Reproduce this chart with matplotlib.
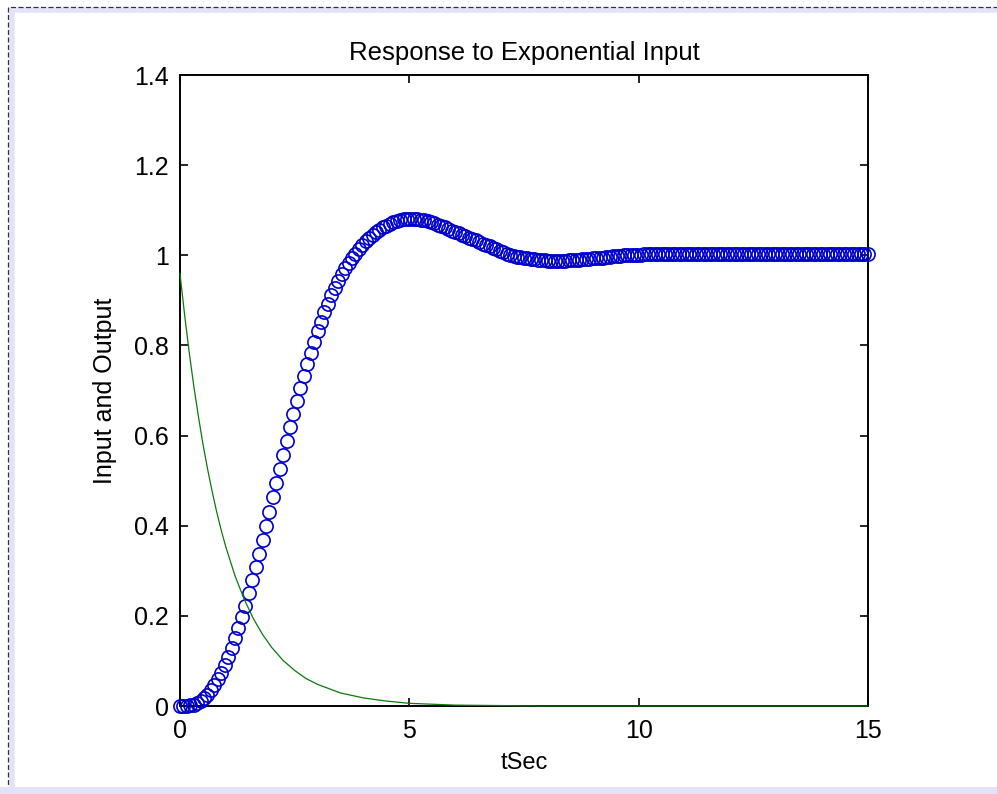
import matplotlib.pyplot as plt
from matplotlib.patches import Rectangle

plt.rcParams['font.family'] = ['Liberation Sans', 'DejaVu Sans']

# output y(t): 201 samples from 0 to 15 s
t_out = [15 * i / 200 for i in range(201)]
y_out = [0.000, 0.000, 0.001, 0.002, 0.003, 0.006, 0.011, 0.018, 0.025, 0.035,
         0.046, 0.059, 0.073, 0.090, 0.108, 0.128, 0.150, 0.173, 0.198, 0.223,
         0.250, 0.279, 0.308, 0.337, 0.368, 0.400, 0.431, 0.463, 0.494, 0.526,
         0.557, 0.587, 0.618, 0.648, 0.677, 0.705, 0.732, 0.758, 0.784, 0.808,
         0.831, 0.853, 0.874, 0.893, 0.911, 0.928, 0.943, 0.958, 0.971, 0.983,
         0.994, 1.004, 1.014, 1.023, 1.031, 1.038, 1.045, 1.051, 1.057, 1.062,
         1.066, 1.070, 1.073, 1.076, 1.078, 1.080, 1.081, 1.081, 1.081, 1.080,
         1.079, 1.078, 1.076, 1.074, 1.071, 1.068, 1.065, 1.062, 1.059, 1.055,
         1.052, 1.049, 1.046, 1.043, 1.039, 1.036, 1.033, 1.029, 1.026, 1.023,
         1.020, 1.017, 1.013, 1.010, 1.007, 1.004, 1.001, 0.999, 0.997, 0.996,
         0.994, 0.993, 0.992, 0.991, 0.990, 0.989, 0.989, 0.988, 0.988, 0.988,
         0.988, 0.988, 0.988, 0.989, 0.989, 0.989, 0.990, 0.991, 0.992, 0.992,
         0.993, 0.994, 0.995, 0.995, 0.996, 0.997, 0.998, 0.998, 0.999, 1.000,
         1.000, 1.000, 1.001, 1.001, 1.001, 1.002, 1.002, 1.002, 1.002, 1.002,
         1.002, 1.002, 1.002, 1.002, 1.002, 1.002, 1.002, 1.002, 1.002, 1.002,
         1.002, 1.002, 1.002, 1.002, 1.002, 1.002, 1.002, 1.002, 1.002, 1.002,
         1.002, 1.002, 1.002, 1.002, 1.002, 1.002, 1.002, 1.002, 1.002, 1.002,
         1.002, 1.002, 1.002, 1.002, 1.002, 1.002, 1.002, 1.002, 1.002, 1.002,
         1.002, 1.002, 1.002, 1.002, 1.002, 1.002, 1.002, 1.002, 1.002, 1.002,
         1.002, 1.002, 1.002, 1.002, 1.002, 1.002, 1.002, 1.002, 1.002, 1.002,
         1.002]

# exponential input u(t)
t_in = [0.0, 0.1, 0.2, 0.3, 0.4, 0.5, 0.6, 0.7, 0.8, 0.9, 1.0, 1.2, 1.4, 1.6,
        1.8, 2.0, 2.25, 2.5, 2.75, 3.0, 3.5, 4.0, 4.5, 5.0, 5.5, 6.0, 7.0, 8.0,
        10.0, 15.0]
u_in = [0.960, 0.869, 0.786, 0.711, 0.644, 0.582, 0.527, 0.477, 0.431, 0.390,
        0.353, 0.289, 0.237, 0.194, 0.159, 0.130, 0.101, 0.079, 0.061, 0.048,
        0.029, 0.018, 0.011, 0.006, 0.004, 0.002, 0.001, 0.000, 0.000, 0.000]

xticks = [0, 5, 10, 15]
yticks = [0, 0.2, 0.4, 0.6, 0.8, 1.0, 1.2, 1.4]
ytick_labels = ['0', '0.2', '0.4', '0.6', '0.8', '1', '1.2', '1.4']

fig = plt.figure(figsize=(9.97, 7.94), dpi=100)
ax = fig.add_axes([0.1805, 0.1108, 0.690, 0.7947])

ax.plot(t_out, y_out, 'o', mfc='none', mec='#0000cc', ms=9.5, mew=1.2,
        clip_on=False, zorder=3)
ax.plot(t_in, u_in, color='#0a7a0a', lw=0.9, clip_on=False, zorder=4)

ax.set_xlim(0, 15)
ax.set_ylim(0, 1.4)
ax.set_xticks(xticks)
ax.set_yticks(yticks)
ax.set_yticklabels(ytick_labels)
ax.tick_params(direction='in', length=6, width=1.2, labelsize=18,
               top=True, right=True)
ax.tick_params(axis='x', pad=9)
ax.tick_params(axis='y', pad=8)
for s in ax.spines.values():
    s.set_linewidth(1.4)

ax.set_title('Response to Exponential Input', fontsize=18.5, pad=11)
ax.set_xlabel('tSec', fontsize=17, labelpad=7)
ax.set_ylabel('Input and Output', fontsize=18, labelpad=12)

# page frame: dashed outline with a pale strip just inside it
fig.add_artist(Rectangle((0.0125, -0.1), 1.2, 1.0874, transform=fig.transFigure,
                         fill=False, ec='#e2e2f8', lw=4))
fig.add_artist(Rectangle((0.008, -0.1), 1.2, 1.0912, transform=fig.transFigure,
                         fill=False, ec='#333333', lw=0.9, ls=(0, (4, 2))))
fig.add_artist(Rectangle((0.0, 0.0), 1.0, 0.009, transform=fig.transFigure,
                         fc='#e2e2f8', ec='none'))

plt.savefig('out.png', dpi=100)
